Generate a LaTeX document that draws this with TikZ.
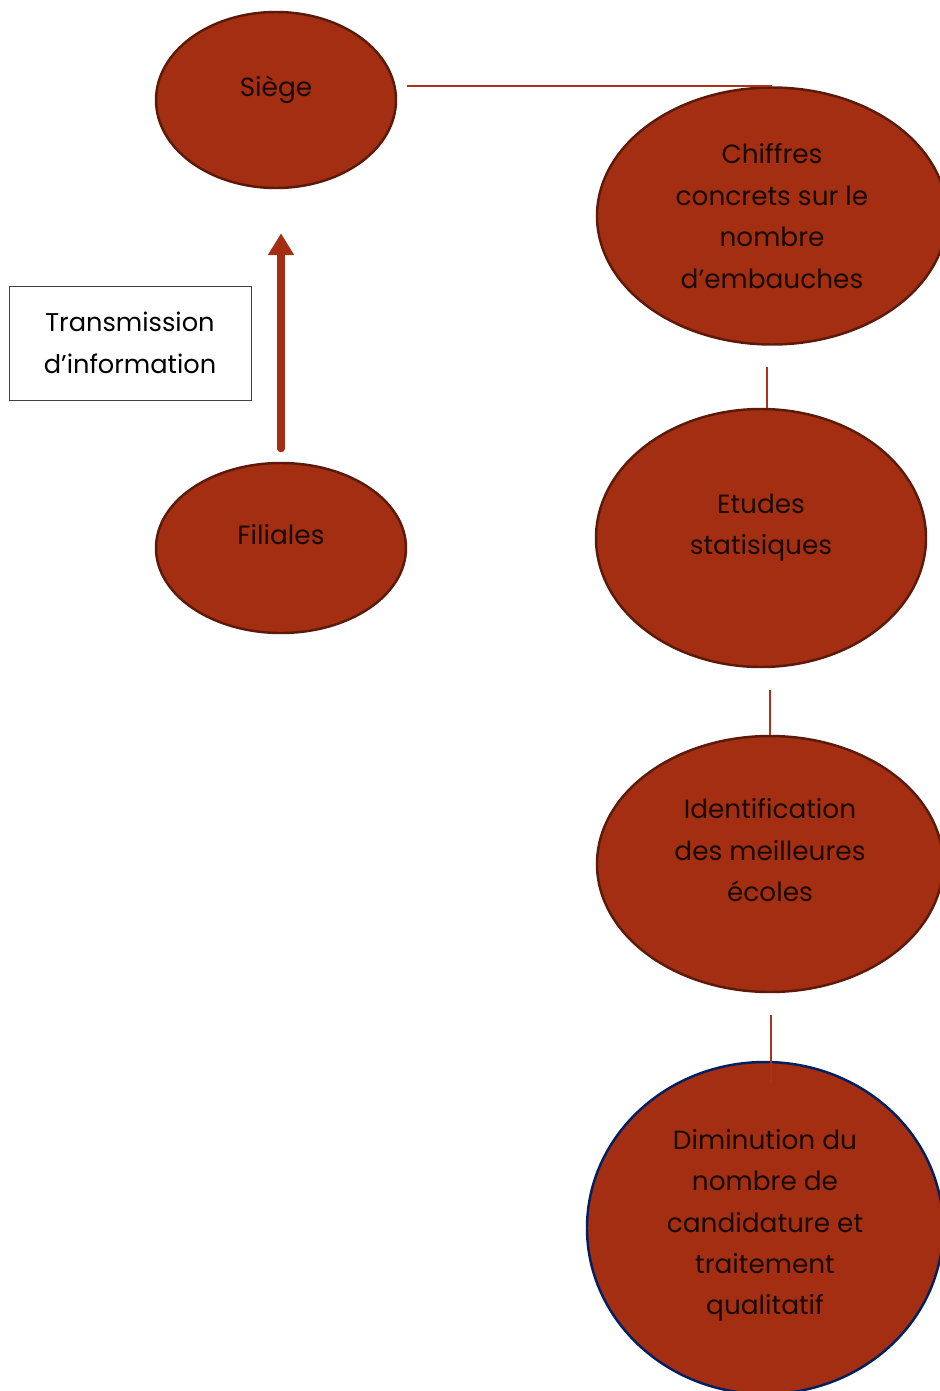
\documentclass[tikz,border=0pt]{standalone}
\usepackage{fontspec}
\setmainfont{Poppins}
\usetikzlibrary{shapes.geometric, arrows.meta}
\definecolor{rust}{RGB}{163,46,17}
\definecolor{rustdark}{RGB}{92,26,10}
\definecolor{navyline}{RGB}{0,32,96}
\definecolor{linkred}{RGB}{168,52,28}
\definecolor{inkdark}{RGB}{26,10,6}

\tikzset{
	bubble/.style={ellipse, fill=rust, draw=rustdark, line width=1.4pt, text=inkdark,
		align=center, font=\fontsize{15}{23.6}\selectfont, text depth=0.56cm},
	link/.style={draw=linkred, line width=0.9pt},
	flow/.style={draw=rust, line width=4pt, line cap=round, -{Triangle[width=0.5cm,length=0.44cm]}},
	note/.style={draw=black!75, line width=0.5pt, fill=white, align=center,
		font=\fontsize{14.6}{23.6}\selectfont}
}

\begin{document}
\begin{tikzpicture}
	\useasboundingbox (0,0) rectangle (18.8,-27.82);

	\node[bubble, minimum width=4.8cm, minimum height=3.52cm] (siege) at (5.52,-2.00) {Siège};
	\node[bubble, minimum width=5.0cm, minimum height=3.4cm] (filiales) at (5.62,-10.96) {Filiales};
	\node[note, minimum width=4.84cm, minimum height=2.28cm] (transmission) at (2.60,-6.86) {Transmission\\d’information};

	\node[bubble, minimum width=7.0cm, minimum height=5.14cm, text depth=0pt] (chiffres) at (15.44,-4.32) {Chiffres\\concrets sur le\\nombre\\d’embauches};
	\node[bubble, minimum width=6.6cm, minimum height=5.16cm] (etudes) at (15.22,-10.76) {Etudes\\statisiques};
	\node[bubble, minimum width=6.92cm, minimum height=5.12cm] (ident) at (15.40,-17.28) {Identification\\des meilleures\\écoles};
	\node[bubble, draw=navyline, minimum width=7.12cm, minimum height=6.64cm, text depth=0.24cm] (diminution) at (15.30,-24.56) {Diminution du\\nombre de\\candidature et\\traitement\\qualitatif};

	% liens
	\draw[link] (chiffres.north) -- ([xshift=0.2cm]siege.east |- chiffres.north);
	\draw[link] ([xshift=0.12cm]etudes.north) -- ([xshift=0.12cm, yshift=-0.42cm]etudes.north |- chiffres.south);
	\draw[link] (ident.north) -- ([yshift=-0.44cm]ident.north |- etudes.south);
	\draw[link] ([xshift=0.02cm, yshift=-0.44cm]ident.south) -- ++(0,-1.36);

	% remontee
	\draw[flow] ([yshift=0.26cm]filiales.north) -- ([yshift=-0.88cm]filiales.north |- siege.south);
\end{tikzpicture}
\end{document}
